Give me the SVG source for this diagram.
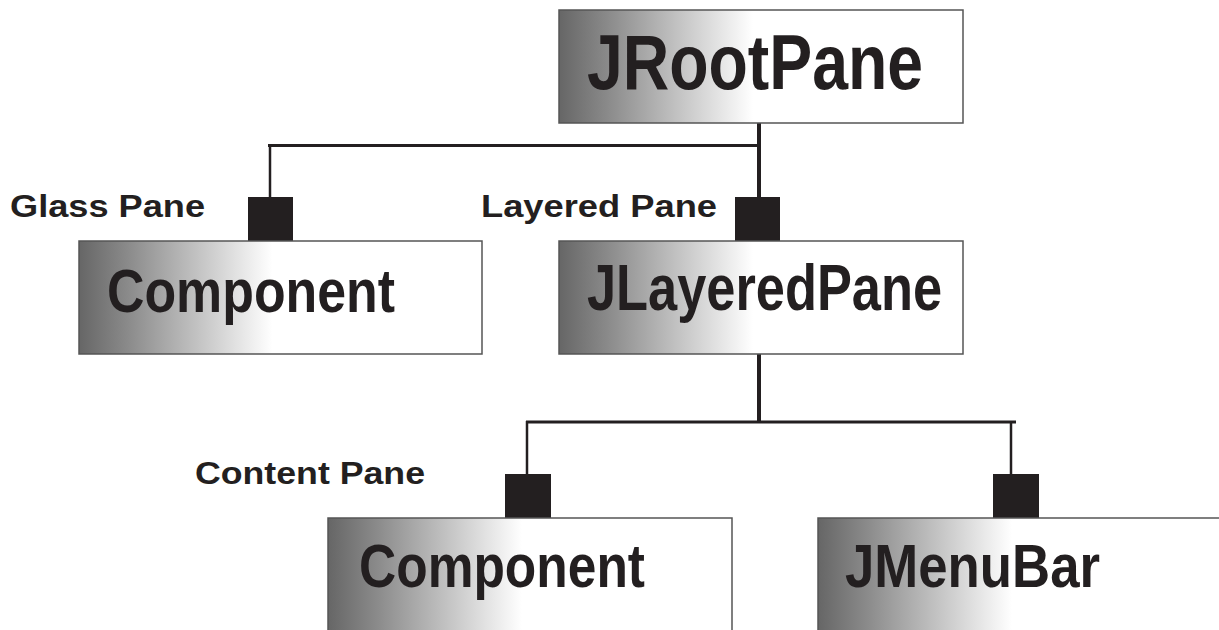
<svg xmlns="http://www.w3.org/2000/svg" width="1219" height="630" viewBox="0 0 1219 630">
<defs>
<linearGradient id="g" x1="0" y1="0" x2="1" y2="0">
<stop offset="0" stop-color="#666666"/>
<stop offset="0.12" stop-color="#8a8a8a"/>
<stop offset="0.48" stop-color="#ffffff"/>
<stop offset="1" stop-color="#ffffff"/>
</linearGradient>
<style>
.box{fill:url(#g);stroke:#555555;stroke-width:1.5}
.t{font-family:"Liberation Sans",Arial,sans-serif;font-weight:bold;fill:#231f20}
.lbl{font-family:"Liberation Sans",Arial,sans-serif;font-weight:bold;fill:#231f20;font-size:31px}
.ln{stroke:#231f20;fill:none}
.sq{fill:#231f20}
</style>
</defs>
<rect width="1219" height="630" fill="#ffffff"/>
<g id="connectors">
<path class="ln" stroke-width="4" d="M759,123 V197"/>
<path class="ln" stroke-width="3" d="M268,145.5 H761"/>
<path class="ln" stroke-width="2.5" d="M270,144 V197"/>
<rect class="sq" x="248" y="197" width="45" height="44"/>
<rect class="sq" x="735" y="197" width="45" height="44"/>
<path class="ln" stroke-width="4" d="M759,354 V422"/>
<path class="ln" stroke-width="3" d="M526,422 H1016"/>
<path class="ln" stroke-width="2.5" d="M527,421 V474"/>
<path class="ln" stroke-width="2.5" d="M1011,421 V474"/>
<rect class="sq" x="505" y="474" width="46" height="44"/>
<rect class="sq" x="993" y="474" width="46" height="44"/>
</g>
<g id="labels">
<text class="lbl" x="10" y="217" textLength="195" lengthAdjust="spacingAndGlyphs">Glass Pane</text>
<text class="lbl" x="481" y="217" textLength="236" lengthAdjust="spacingAndGlyphs">Layered Pane</text>
<text class="lbl" x="195" y="484" textLength="230" lengthAdjust="spacingAndGlyphs">Content Pane</text>
</g>
<g id="jrootpane">
<rect class="box" x="559" y="10" width="404" height="113"/>
<text class="t" x="587" y="89" font-size="78" textLength="336" lengthAdjust="spacingAndGlyphs">JRootPane</text>
</g>
<g id="component1">
<rect class="box" x="79" y="241" width="403" height="113"/>
<text class="t" x="107" y="312" font-size="62" textLength="288" lengthAdjust="spacingAndGlyphs">Component</text>
</g>
<g id="jlayeredpane">
<rect class="box" x="559" y="241" width="404" height="113"/>
<text class="t" x="587" y="310" font-size="65" textLength="355" lengthAdjust="spacingAndGlyphs">JLayeredPane</text>
</g>
<g id="component2">
<rect class="box" x="328" y="518" width="404" height="120"/>
<text class="t" x="359" y="587" font-size="62" textLength="286" lengthAdjust="spacingAndGlyphs">Component</text>
</g>
<g id="jmenubar">
<rect class="box" x="818" y="518" width="404" height="120"/>
<text class="t" x="845" y="587" font-size="62" textLength="255" lengthAdjust="spacingAndGlyphs">JMenuBar</text>
</g>
</svg>
